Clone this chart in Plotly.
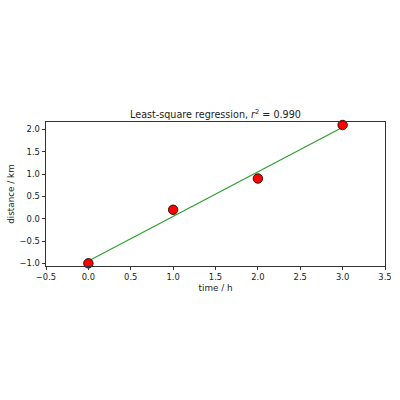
import numpy as np
import plotly.graph_objects as go

x = [0, 1, 2, 3]
y = [-1.0, 0.2, 0.9, 2.1]
m, c = 1.0, -0.95
line_y = [m * xi + c for xi in x]

fig = go.Figure()
fig.add_trace(go.Scatter(x=x, y=line_y, mode="lines",
                         line=dict(color="#2ca02c", width=1.2), showlegend=False))
fig.add_trace(go.Scatter(x=x, y=y, mode="markers",
                         marker=dict(color="red", size=9.5, line=dict(color="black", width=0.8)),
                         showlegend=False, cliponaxis=False))

font = dict(family="DejaVu Sans", size=8.4, color="#222")
tfont = dict(family="DejaVu Sans", size=8.8, color="#222")
axis_common = dict(showgrid=False, zeroline=False, showline=True, linecolor="#333",
                   linewidth=0.8, mirror=True, ticks="outside", ticklen=3.5,
                   tickwidth=0.8, tickcolor="#333", tickfont=font, automargin=False)
fig.update_xaxes(range=[-0.5, 3.5], dtick=0.5, tick0=-0.5, tickformat=".1f",
                 title=dict(text="time / h", font=tfont, standoff=3),
                 **axis_common)
fig.update_yaxes(range=[-1.06, 2.167], dtick=0.5, tick0=-1.0, tickformat=".1f",
                 title=dict(text="distance / km", font=tfont, standoff=3),
                 **axis_common)
fig.update_layout(
    width=400, height=400,
    margin=dict(l=46, r=15, t=122, b=134, autoexpand=False),
    paper_bgcolor="white", plot_bgcolor="white",
    title=dict(text="Least-square regression, <i>r</i><sup>2</sup> = 0.990",
               font=dict(family="DejaVu Sans", size=9.6, color="#222"),
               x=0.5, xanchor="center", xref="paper", y=1 - 115 / 400, yanchor="middle",
               automargin=False),
)
fig.write_html("out.html", post_script="document.body.style.margin='0';",
               config={"displayModeBar": False})
